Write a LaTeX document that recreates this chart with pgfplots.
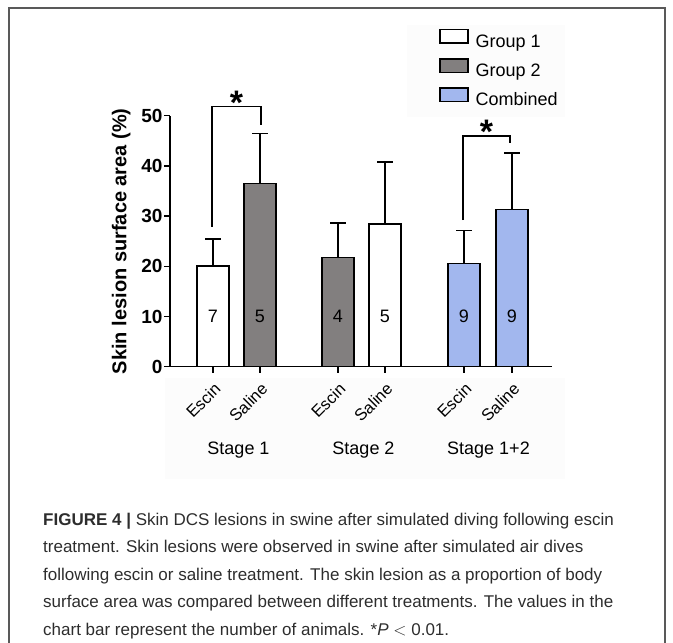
\documentclass[border=0pt]{standalone}
\usepackage{fontspec}
\setmainfont{Liberation Sans}
\usepackage{pgfplots}
\pgfplotsset{compat=1.18}
\definecolor{barGray}{RGB}{130,127,127}
\definecolor{barBlue}{RGB}{162,183,238}
\definecolor{capText}{RGB}{45,45,45}
\definecolor{faintBg}{RGB}{252,252,252}
\newcommand{\fs}[1]{\fontsize{#1}{#1}\selectfont}

\begin{document}
\begin{tikzpicture}[x=1pt,y=1pt]
\useasboundingbox (0,0) rectangle (673,-643);
\draw[line width=1.5pt, black!65] (9,-700) -- (9,-8) -- (665,-8) -- (665,-700);
\fill[faintBg] (165,-378) rectangle (565,-479);
\fill[faintBg] (407,-25) rectangle (565,-117);
\begin{axis}[
  at={(170pt,-366.7pt)}, anchor=south west,
  scale only axis, width=382pt, height=251pt,
  xmin=170, xmax=552, ymin=0, ymax=50,
  axis x line=bottom, axis y line=left,
  axis line style={-, line width=1.5pt},
  clip=false,
  ytick={0,10,20,30,40,50},
  xtick={213,260,338,385,464,512},
  xticklabels={Escin,Saline,Escin,Saline,Escin,Saline},
  tick align=outside, major tick length=6pt,
  tick style={line width=1.5pt, black},
  /pgf/number format/assume math mode=true,
  yticklabel style={font=\fs{19}\bfseries, xshift=2pt},
  xticklabel style={font=\fs{16.5}, xshift=7pt, yshift=-11pt, rotate=45, anchor=east},
  ylabel={Skin lesion surface area (\%)},
  ylabel style={font=\fs{20}\bfseries, yshift=4pt},
  legend style={at={(0.704,1.347)}, anchor=north west, draw=none, fill=none,
    inner sep=0pt, font=\fs{18}, row sep=6pt, column sep=6pt,
    nodes={inner sep=1pt, text height=13pt, text depth=4pt},
    cells={anchor=west}},
]
\addplot[ybar, bar width=32, bar shift=0pt, fill=white, draw=black, line width=1.5pt,
  legend image code/.code={\draw[fill=white, draw=black, line width=1.5pt] (0pt,-0.5pt) rectangle (28pt,13pt);},
  error bars/.cd, y dir=plus, y explicit,
  error bar style={line width=1.5pt, black},
  error mark options={rotate=90, mark size=8pt, line width=1.5pt, black}]
  coordinates {(213,20.1) +- (0,5.3) (385,28.4) +- (0,12.4)};
\addlegendentry{Group 1}
\addplot[ybar, bar width=32, bar shift=0pt, fill=barGray, draw=black, line width=1.5pt,
  legend image code/.code={\draw[fill=barGray, draw=black, line width=1.5pt] (0pt,-0.5pt) rectangle (28pt,13pt);},
  error bars/.cd, y dir=plus, y explicit,
  error bar style={line width=1.5pt, black},
  error mark options={rotate=90, mark size=8pt, line width=1.5pt, black}]
  coordinates {(260,36.5) +- (0,10.0) (338,21.8) +- (0,6.8)};
\addlegendentry{Group 2}
\addplot[ybar, bar width=32, bar shift=0pt, fill=barBlue, draw=black, line width=1.5pt,
  legend image code/.code={\draw[fill=barBlue, draw=black, line width=1.5pt] (0pt,-0.5pt) rectangle (28pt,13pt);},
  error bars/.cd, y dir=plus, y explicit,
  error bar style={line width=1.5pt, black},
  error mark options={rotate=90, mark size=8pt, line width=1.5pt, black}]
  coordinates {(464,20.6) +- (0,6.5) (512,31.3) +- (0,11.3)};
\addlegendentry{Combined}
% n values
\foreach \xx/\nn in {213/7,260/5,338/4,385/5,464/9,512/9}{
  \edef\tmp{\noexpand\node[font=\noexpand\fs{18}] at (axis cs:\xx,10) {\nn};}\tmp
}
% significance brackets
\draw[line width=1.5pt] (axis cs:212,27.9) -- (axis cs:212,51.8) -- (axis cs:261,51.8) -- (axis cs:261,48.1);
\draw[line width=1.5pt] (axis cs:463,29.2) -- (axis cs:463,46.0) -- (axis cs:510,46.0) -- (axis cs:510,44.5);
\node[font=\fs{34}\bfseries, anchor=base] at (axis cs:236.5,51.8) [yshift=-8pt] {*};
\node[font=\fs{34}\bfseries, anchor=base] at (axis cs:486.5,46.0) [yshift=-8pt] {*};
% group labels
\node[font=\fs{18}] at (axis cs:238.5,-16.6) {Stage 1};
\node[font=\fs{18}] at (axis cs:363.5,-16.6) {Stage 2};
\node[font=\fs{18}] at (axis cs:488.5,-16.6) {Stage 1+2};
\end{axis}
% caption
\begin{scope}[every node/.style={anchor=base west, inner sep=0pt, text=capText, font=\fs{17}}]
\node at (43,-525) {\textbf{FIGURE 4 |} Skin DCS lesions in swine after simulated diving following escin};
\node at (43,-552.5) {treatment. Skin lesions were observed in swine after simulated air dives};
\node at (43,-580) {following escin or saline treatment. The skin lesion as a proportion of body};
\node at (43,-607.5) {surface area was compared between different treatments. The values in the};
\node at (43,-635) {chart bar represent the number of animals. *\textit{P} $<$ 0.01.};
\end{scope}
\end{tikzpicture}
\end{document}
